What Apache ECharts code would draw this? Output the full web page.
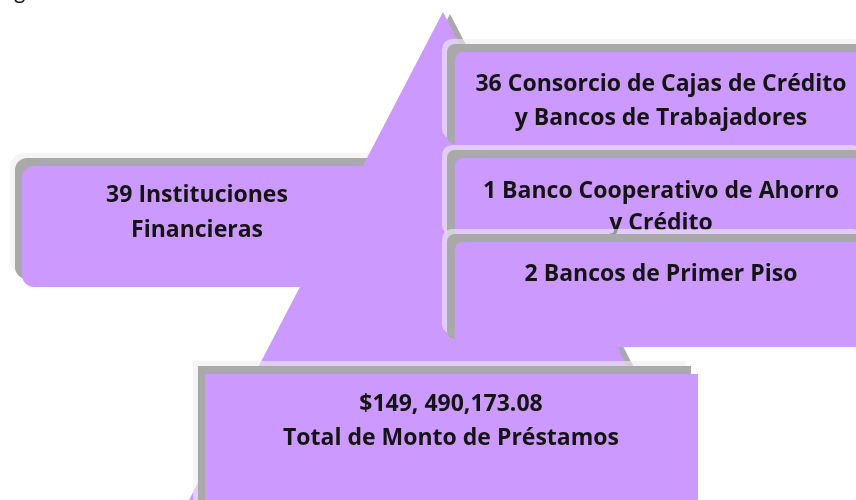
<!DOCTYPE html>
<html>
<head>
<meta charset="utf-8">
<script src="https://cdn.jsdelivr.net/npm/echarts@6/dist/echarts.min.js"></script>
<style>html,body{margin:0;padding:0;background:#fff}#c{width:856px;height:500px}</style>
</head>
<body>
<div id="c"></div>
<script>
// ---- data ----
const totalInstitutions = 39;
const groupCounts = [36, 1, 2];
const groupLines = [
  ['Consorcio de Cajas de Crédito', 'y Bancos de Trabajadores'],
  ['Banco Cooperativo de Ahorro', 'y Crédito'],
  ['Bancos de Primer Piso']
];
const leftLines = [totalInstitutions + ' Instituciones', 'Financieras'];
const totalAmount = '$149, 490,173.08';
const totalCaption = 'Total de Monto de Préstamos';

// ---- styles ----
const PURPLE = '#cc99ff';
const GRAY = '#a9a9a9';
const RIM = 'rgba(238,238,238,0.6)';
const FONT = 'bold 23px "Open Sans", sans-serif';
const TXT = '#141414';

const chart = echarts.init(document.getElementById('c'), null, {renderer: 'canvas'});
const els = [];

function box(x, y, w, h, r, gx, gy) {
  els.push({type: 'rect', shape: {x: x - gx - 5, y: y - gy - 5, width: w, height: h, r: r + 2}, style: {fill: RIM}, silent: true});
  els.push({type: 'rect', shape: {x: x - gx, y: y - gy, width: w, height: h, r: r}, style: {fill: GRAY}, silent: true});
  els.push({type: 'rect', shape: {x: x, y: y, width: w, height: h, r: r}, style: {fill: PURPLE}, silent: true});
}
function lines(arr, cx, y0, lh) {
  arr.forEach(function (t, i) {
    els.push({type: 'text', silent: true, style: {text: t, x: cx, y: y0 + i * lh, fill: TXT, font: FONT, textAlign: 'center', textVerticalAlign: 'middle'}});
  });
}

// cut-off glyph from text above the figure
els.push({type: 'text', silent: true, style: {text: 'g', x: 14, y: -19, fill: '#111', font: '22px Lato, sans-serif'}});

// left box
box(22, 166, 420, 121, 12, 7, 8);
lines(leftLines, 197, 195, 35);

// triangle shadow (upper part only) + triangle
els.push({type: 'polygon', silent: true, shape: {points: [[450, 14], [251, 400], [651, 400]]}, style: {fill: GRAY}});
els.push({type: 'polygon', silent: true, shape: {points: [[443, 12], [189, 500], [697, 500]]}, style: {fill: PURPLE}});

// right boxes
const rightBoxes = [[52, 100], [158, 90], [242, 105]];
const textY = [84, 191, 274];
groupLines.forEach(function (ls, i) {
  box(455, rightBoxes[i][0], 420, rightBoxes[i][1], 8, 8, 8);
  const l = ls.slice();
  l[0] = groupCounts[i] + ' ' + l[0];
  lines(l, 661, textY[i], i === 1 ? 32 : 34);
});

// bottom box
box(205, 374, 493, 140, 0, 7, 8);
lines([totalAmount, totalCaption], 451, 404, 34);

chart.setOption({animation: false, graphic: {elements: els}});
</script>
</body>
</html>
